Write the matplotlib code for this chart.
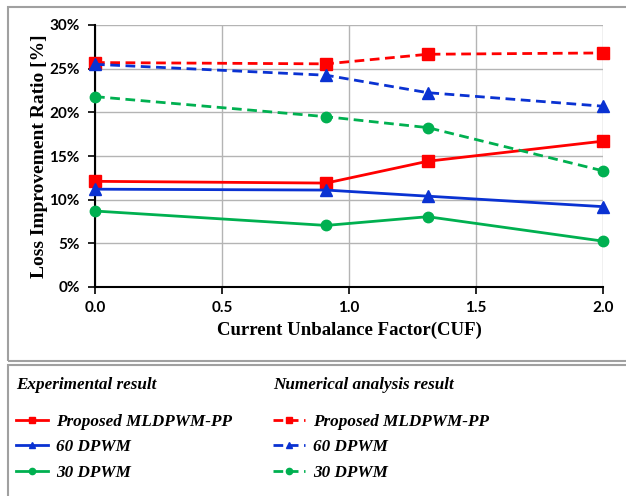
import matplotlib
matplotlib.use("Agg")
import matplotlib.pyplot as plt
from matplotlib.patches import Rectangle
from matplotlib.ticker import FuncFormatter

cuf = [0.0, 0.91, 1.31, 2.0]
exp_proposed = [12.1, 11.9, 14.4, 16.7]
exp_60 = [11.2, 11.1, 10.4, 9.2]
exp_30 = [8.7, 7.05, 8.05, 5.25]
num_proposed = [25.7, 25.55, 26.65, 26.8]
num_60 = [25.5, 24.25, 22.25, 20.7]
num_30 = [21.8, 19.5, 18.25, 13.3]

series_names = ["Proposed MLDPWM-PP", "60 DPWM", "30 DPWM"]
group_titles = ["Experimental result", "Numerical analysis result"]
x_ticks = [0.0, 0.5, 1.0, 1.5, 2.0]
y_ticks = [0, 5, 10, 15, 20, 25, 30]

RED = "#ff0000"
BLUE = "#0a32d2"
GREEN = "#00b050"

serif = "Liberation Serif"
sans = "Lato"

fig = plt.figure(figsize=(6.26, 4.96), dpi=100)
ax = fig.add_axes([95/626, 1-287/496, (603-95)/626, (287-25)/496])

styles = [("s", RED), ("^", BLUE), ("o", GREEN)]
msizes = [8, 8, 7.5]
exp_handles = []
num_handles = []
for vals, (m, c), ms in zip([exp_proposed, exp_60, exp_30], styles, msizes):
    h, = ax.plot(cuf, vals, color=c, lw=2, marker=m, ms=ms, zorder=3, clip_on=False)
    exp_handles.append(h)
for vals, (m, c), ms in zip([num_proposed, num_60, num_30], styles, msizes):
    h, = ax.plot(cuf, vals, color=c, lw=2, ls=(0, (3.5, 2)), marker=m, ms=ms, zorder=3, clip_on=False)
    num_handles.append(h)

ax.set_xlim(0, 2.0)
ax.set_ylim(0, 30)
ax.set_xticks(x_ticks)
ax.set_yticks(y_ticks)
ax.xaxis.set_major_formatter(FuncFormatter(lambda v, p: f"{v:.1f}"))
ax.yaxis.set_major_formatter(FuncFormatter(lambda v, p: f"{v:.0f}%"))
ax.grid(True, color="#b4b4b4", lw=1)
ax.set_axisbelow(True)
for s in ["top", "right"]:
    ax.spines[s].set_visible(False)
for s in ["left", "bottom"]:
    ax.spines[s].set_color("black")
    ax.spines[s].set_linewidth(1.5)
ax.tick_params(axis="both", direction="out", length=5, width=1.2, color="black")
ax.tick_params(axis="y", pad=6)
ax.tick_params(axis="x", pad=5)
for lab in ax.get_xticklabels() + ax.get_yticklabels():
    lab.set_fontfamily(sans)
    lab.set_fontweight("bold")
    lab.set_fontsize(11)

ax.set_ylabel("Loss Improvement Ratio [%]", fontfamily=serif, fontweight="bold", fontsize=14, labelpad=1)
ax.set_xlabel("Current Unbalance Factor(CUF)", fontfamily=serif, fontweight="bold", fontsize=13.5, labelpad=5)

# frames
fig.patches.append(Rectangle((8/626, 1-361/496), 0.99, (361-7)/496, transform=fig.transFigure,
                             fill=False, ec="#a0a0a0", lw=1.5))
fig.patches.append(Rectangle((8/626, -0.01), 0.99, (1-365/496)+0.01, transform=fig.transFigure,
                             fill=False, ec="#a0a0a0", lw=1.5))

legfont = dict(family=serif, weight="bold", style="italic", size=12.3)
for handles, xpos, title in [(exp_handles, 16/626, group_titles[0]), (num_handles, 273/626, group_titles[1])]:
    leg = fig.legend(handles, series_names, loc="upper left", bbox_to_anchor=(xpos, 1-377/496),
                     frameon=False, prop=legfont, title=title, title_fontproperties=legfont,
                     alignment="left", handlelength=1.9, handletextpad=0.45, labelspacing=0.55,
                     markerscale=0.6, borderaxespad=0, borderpad=0)
    leg._legend_box.sep = 15

fig.savefig("out.png", dpi=100)
